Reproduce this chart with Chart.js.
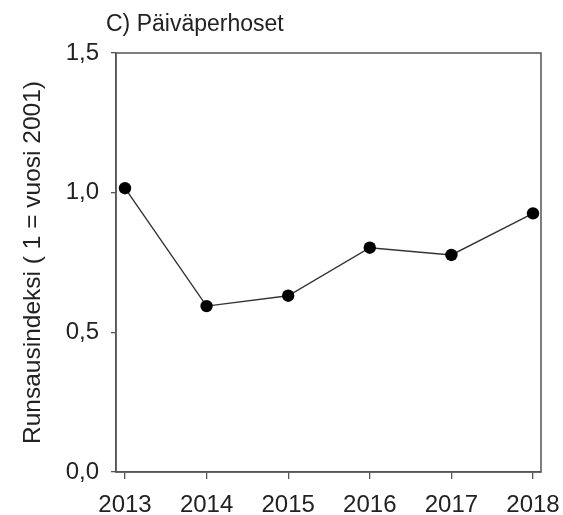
<!DOCTYPE html>
<html>
<head>
<meta charset="utf-8">
<script src="https://cdn.jsdelivr.net/npm/chart.js@4/dist/chart.umd.min.js"></script>
<style>
html,body{margin:0;padding:0;background:#fff;}
#wrap{width:563px;height:515px;position:relative;}
</style>
</head>
<body>
<div id="wrap"><canvas id="c" width="563" height="515"></canvas></div>
<script>
const years = [2013, 2014, 2015, 2016, 2017, 2018];
const index = [1.016, 0.594, 0.631, 0.803, 0.777, 0.926];
const yTicks = [0, 0.5, 1.0, 1.5];
const chartTitle = 'C) Päiväperhoset';
const yTitle = 'Runsausindeksi ( 1 = vuosi 2001)';

const FONT = "'Liberation Sans', Arial, sans-serif";

const framePlugin = {
  id: 'frame',
  afterDatasetsDraw(chart) {
    const {ctx, chartArea: a} = chart;
    ctx.save();
    ctx.strokeStyle = '#555';
    ctx.lineWidth = 1.5;
    ctx.strokeRect(a.left, a.top, a.right - a.left, a.bottom - a.top);
    ctx.restore();
  },
  afterDraw(chart) {
    const {ctx} = chart;
    ctx.save();
    ctx.fillStyle = '#222';
    ctx.font = '23px ' + FONT;
    ctx.textBaseline = 'middle';
    ctx.textAlign = 'left';
    ctx.fillText(chartTitle, 106, 25);
    ctx.restore();
  }
};

new Chart(document.getElementById('c'), {
  type: 'line',
  data: {
    datasets: [{
      data: years.map((y, i) => ({x: y, y: index[i]})),
      borderColor: '#333',
      borderWidth: 1.4,
      pointBackgroundColor: '#000',
      pointBorderColor: '#000',
      pointRadius: 6.2,
      pointBorderWidth: 0,
      tension: 0
    }]
  },
  options: {
    responsive: false,
    animation: false,
    layout: {padding: {left: 0, right: 22, top: 53, bottom: 0}},
    plugins: {legend: {display: false}, tooltip: {enabled: false}, title: {display: false}},
    scales: {
      x: {
        type: 'linear',
        min: 2012.89,
        max: 2018.098,
        afterBuildTicks: s => { s.ticks = years.map(v => ({value: v})); },
        afterFit: s => { s.height = 43; s.paddingLeft = 0; s.paddingRight = 0; },
        grid: {drawOnChartArea: false, drawTicks: true, tickLength: 7, color: '#555', lineWidth: 1.3},
        border: {display: true, color: '#555', width: 1.5},
        ticks: {
          font: {family: FONT, size: 24},
          color: '#222',
          padding: 12,
          maxRotation: 0,
          autoSkip: false,
          callback: v => String(v)
        }
      },
      y: {
        min: 0,
        max: 1.5,
        afterBuildTicks: s => { s.ticks = yTicks.map(v => ({value: v})); },
        afterFit: s => { s.width = 116; s.paddingTop = 0; s.paddingBottom = 0; },
        grid: {drawOnChartArea: false, drawTicks: true, tickLength: 5, color: '#555', lineWidth: 1.3},
        border: {display: true, color: '#555', width: 1.5},
        ticks: {
          font: {family: FONT, size: 24},
          color: '#222',
          padding: 12,
          callback: v => v.toFixed(1).replace('.', ',')
        },
        title: {
          display: true,
          text: yTitle,
          font: {family: FONT, size: 24.5},
          color: '#222',
          padding: {top: 19, bottom: 0}
        }
      }
    }
  },
  plugins: [framePlugin]
});
</script>
</body>
</html>
